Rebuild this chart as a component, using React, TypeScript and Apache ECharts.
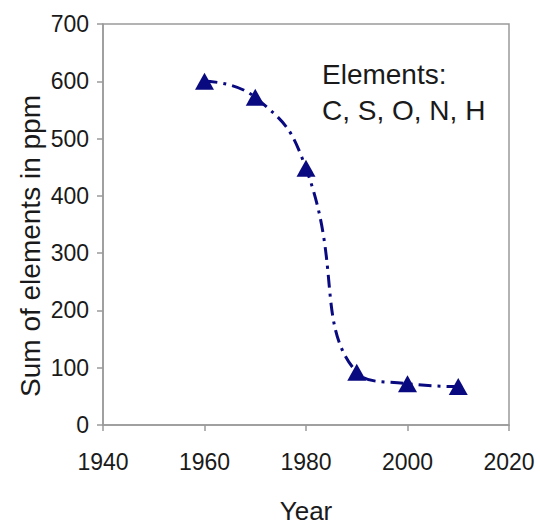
import React, { useEffect, useRef } from "react";
import * as echarts from "echarts";

const years = [1960, 1970, 1980, 1990, 2000, 2010];
const sums = [600, 572, 448, 92, 72, 67];
const xTicks = { min: 1940, max: 2020, interval: 20 };
const yTicks = { min: 0, max: 700, interval: 100 };
const noteLines = ["Elements:", "C, S, O, N, H"];
const xName = "Year";
const yName = "Sum of elements in ppm";

const FONT = "'Liberation Sans', Arial, sans-serif";
const AXIS = "#9a9a9a";
const NAVY = "#0a0a80";
const TEXT = "#1a1a1a";

export default function App() {
  const ref = useRef<HTMLDivElement>(null);
  useEffect(() => {
    document.body.style.margin = "0";
    if (!ref.current) return;
    const chart = echarts.init(ref.current, undefined, { renderer: "svg" });
    chart.setOption({
      animation: false,
      backgroundColor: "#ffffff",
      grid: {
        left: 103,
        top: 24,
        width: 406,
        height: 413,
        show: true,
        borderColor: AXIS,
        borderWidth: 1.5,
      },
      xAxis: {
        type: "value",
        min: xTicks.min,
        max: xTicks.max,
        interval: xTicks.interval,
        name: xName,
        nameLocation: "middle",
        nameGap: 73,
        nameTextStyle: { fontFamily: FONT, fontSize: 26, color: TEXT },
        axisLine: { show: true, lineStyle: { color: AXIS, width: 1.5 } },
        axisTick: { show: true, length: 6, lineStyle: { color: AXIS, width: 1.5 } },
        splitLine: { show: false },
        axisLabel: {
          fontFamily: FONT,
          fontSize: 23,
          color: TEXT,
          margin: 25,
          formatter: (v: number) => String(v),
        },
      },
      yAxis: {
        type: "value",
        min: yTicks.min,
        max: yTicks.max,
        interval: yTicks.interval,
        axisLine: { show: true, lineStyle: { color: AXIS, width: 1.5 } },
        axisTick: { show: true, length: 6, lineStyle: { color: AXIS, width: 1.5 } },
        splitLine: { show: false },
        axisLabel: {
          fontFamily: FONT,
          fontSize: 23,
          color: TEXT,
          margin: 14,
        },
      },
      series: [
        {
          type: "line",
          data: years.map((y, i) => [y, sums[i]]),
          smooth: 0.5,
          symbol: "triangle",
          symbolSize: [19, 17],
          itemStyle: { color: NAVY },
          lineStyle: { color: NAVY, width: 3, type: [13, 6, 3, 6] },
        },
      ],
      graphic: [
        ...noteLines.map((t, i) => ({
          type: "text",
          left: 322,
          top: 60 + i * 36,
          style: {
            text: t,
            fontFamily: FONT,
            fontSize: 28,
            fill: TEXT,
          },
        })),
        {
          type: "text",
          x: 30,
          y: 246,
          rotation: Math.PI / 2,
          style: {
            text: yName,
            fontFamily: FONT,
            fontSize: 28,
            fill: TEXT,
            align: "center",
            verticalAlign: "middle",
          },
        },
      ],
    });
    return () => chart.dispose();
  }, []);
  return <div ref={ref} style={{ width: 540, height: 529 }} />;
}
